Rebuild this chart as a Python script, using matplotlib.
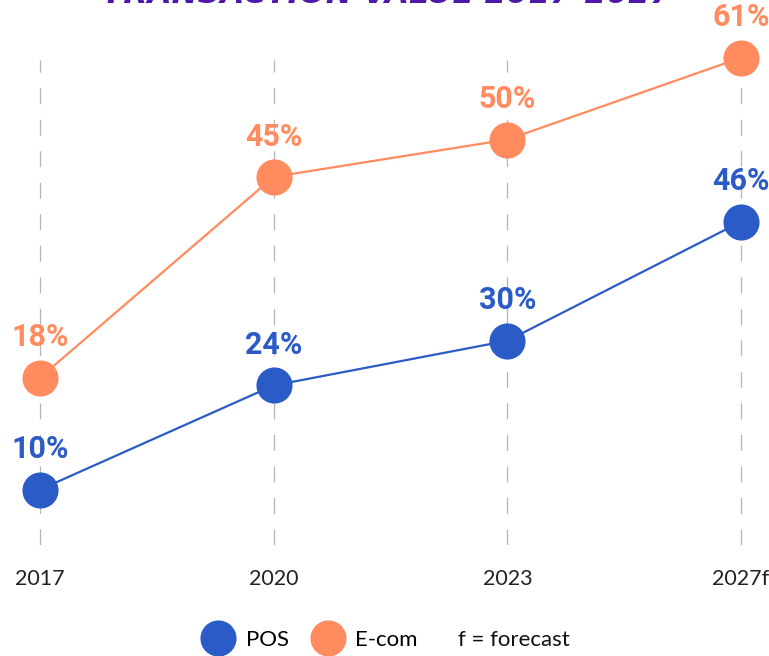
import matplotlib.pyplot as plt
from matplotlib.lines import Line2D

plt.rcParams['lines.scale_dashes'] = False

# data
years = ['2017', '2020', '2023', '2027f']
pos = [10, 24, 30, 46]
ecom = [18, 45, 50, 61]

BLUE = '#2A5BC6'
ORANGE = '#FF8B5E'
PURPLE = '#4E19A8'

W, H = 769, 656
fig = plt.figure(figsize=(W / 100, H / 100), dpi=100)

# plot area (pixel based)
ax = fig.add_axes([0, 1 - 545 / H, 1, 485 / H])
ax2 = ax.twinx()

x = list(range(len(years)))
ax.set_xlim(-0.1712, 3.1198)
ax.set_ylim(2.55, 67.74)
ax2.set_ylim(-4.49, 60.70)

for a in (ax, ax2):
    for s in a.spines.values():
        s.set_visible(False)
    a.set_yticks([])
    a.patch.set_visible(False)

ax.set_xticks(x)
ax.set_xticklabels(years, fontsize=15.5, family='Lato', color='#222222')
ax.tick_params(axis='x', length=0, pad=17)
ax.xaxis.grid(True, color='#b5b5b5', linewidth=0.9, linestyle=(0, (11.5, 11.2)))
ax.set_axisbelow(True)

ax.plot(x, pos, color=BLUE, lw=1.6, marker='o', ms=25, clip_on=False, zorder=3)
ax2.plot(x, ecom, color=ORANGE, lw=1.6, marker='o', ms=25, clip_on=False, zorder=3)

for xi, v in zip(x, pos):
    ax.annotate(f'{v}%', (xi, v), xytext=(0, 29), textcoords='offset points',
                ha='center', va='center', fontsize=22, fontweight='bold',
                family='Roboto', color=BLUE, annotation_clip=False)
for xi, v in zip(x, ecom):
    ax2.annotate(f'{v}%', (xi, v), xytext=(0, 29), textcoords='offset points',
                 ha='center', va='center', fontsize=22, fontweight='bold',
                 family='Roboto', color=ORANGE, annotation_clip=False)

# title, mostly cut off at the top edge
fig.text(386.5 / W, 1 - 3 / H, 'TRANSACTION VALUE 2017-2027', ha='center', va='baseline',
         fontsize=22.5, fontweight='heavy', style='italic', color=PURPLE)

# legend
handles = [Line2D([], [], marker='o', ms=25, color=BLUE, ls='none'),
           Line2D([], [], marker='o', ms=25, color=ORANGE, ls='none')]
fig.legend(handles, ['POS', 'E-com'], loc='center', bbox_to_anchor=(309 / W, 1 - 640 / H),
           ncol=2, frameon=False, handlelength=1.6, handletextpad=0.45, columnspacing=0.95,
           prop={'family': 'Lato', 'size': 16})
fig.text(458 / W, 1 - 640 / H, 'f = forecast', ha='left', va='center',
         family='Lato', fontsize=16, color='#111111')

fig.savefig('out.png', dpi=100)
